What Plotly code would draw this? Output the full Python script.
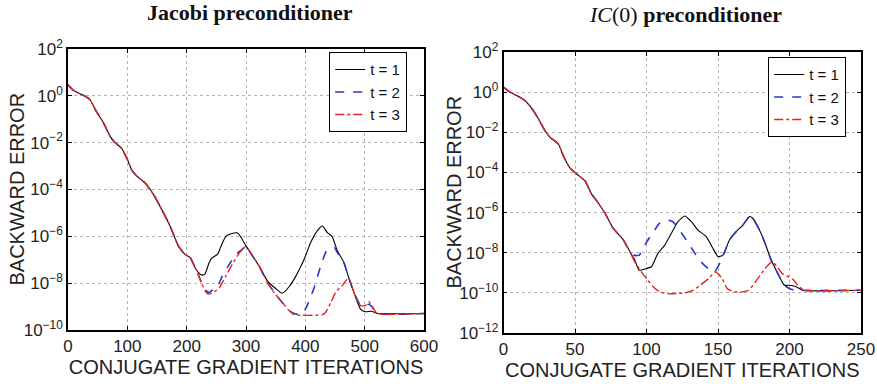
import plotly.graph_objects as go

# ---------------- Data ----------------
# Left panel: Jacobi preconditioner
jac_iter_t1 = [0, 8, 20, 30, 37, 48, 60, 71, 79, 90, 99, 107, 116, 130, 144, 155, 172, 186, 197, 206, 214,
               220, 226, 231, 238, 243, 252, 258, 266, 275, 286, 292, 300, 311, 322, 336, 350, 361, 373, 384,
               398, 409, 420, 429, 437, 445, 454, 465, 473, 482, 493, 501, 512, 521, 600]
jac_err_t1 = [2.95, 1.8, 1.23, 0.93, 0.68, 0.21, 0.069, 0.0186, 0.0102, 0.0059, 0.00224, 7.1e-4, 3.7e-4,
              1.9e-4, 6.2e-5, 1.95e-5, 2.75e-6, 3.9e-7, 1.7e-7, 1.23e-7, 4.7e-8,
              2.8e-8, 2.2e-8, 2.5e-8, 7.6e-8, 1.23e-7, 1.7e-7, 3.9e-7, 1.0e-6, 1.3e-6, 1.4e-6, 8.7e-7,
              3.9e-7, 1.45e-7, 5.5e-8, 1.26e-8, 5.9e-9, 3.7e-9, 7.2e-9, 2.0e-8,
              1.05e-7, 5.4e-7, 1.7e-6, 2.75e-6, 1.45e-6, 1.0e-6, 2.4e-7, 7.6e-8, 1.74e-8, 4.0e-9,
              7.8e-10, 6.0e-10, 6.3e-10, 5.1e-10, 5.1e-10]

jac_iter_t2 = [0, 8, 20, 30, 37, 48, 60, 71, 79, 90, 99, 107, 116, 130, 144, 155, 172, 186, 197, 206, 214,
               217, 225, 233, 238, 246, 252, 260, 272, 283, 297, 300, 311, 322, 336, 350, 361, 373, 384,
               395, 403, 415, 426, 437, 449, 454, 465, 473, 482, 493, 499, 507, 512, 521, 600]
jac_err_t2 = [2.95, 1.8, 1.23, 0.93, 0.68, 0.21, 0.069, 0.0186, 0.0102, 0.0059, 0.00224, 7.1e-4, 3.7e-4,
              1.9e-4, 6.2e-5, 1.95e-5, 2.75e-6, 3.9e-7, 1.7e-7, 1.23e-7, 4.7e-8,
              3.4e-8, 1.07e-8, 4.7e-9, 4.0e-9, 5.8e-9, 7.2e-9, 2.0e-8, 6.5e-8, 1.7e-7, 3.3e-7,
              3.9e-7, 1.45e-7, 5.5e-8, 1.07e-8, 3.4e-9, 1.5e-9, 6.6e-10, 4.8e-10,
              4.8e-10, 1.1e-9, 6.6e-9, 5.5e-8, 2.8e-7, 3.3e-7, 2.0e-7, 7.6e-8, 1.74e-8, 4.0e-9,
              1.1e-9, 1.0e-9, 1.26e-9, 1.0e-9, 5.1e-10, 5.1e-10]

jac_iter_t3 = [0, 8, 20, 30, 37, 48, 60, 71, 79, 90, 99, 107, 116, 130, 144, 155, 172, 186, 197, 206, 214,
               217, 225, 233, 238, 249, 255, 266, 277, 289, 297, 300, 311, 322, 336, 350, 361, 373, 381,
               429, 434, 443, 451, 462, 470, 476, 482, 493, 501, 507, 513, 521, 600]
jac_err_t3 = [2.95, 1.8, 1.23, 0.93, 0.68, 0.21, 0.069, 0.0186, 0.0102, 0.0059, 0.00224, 7.1e-4, 3.7e-4,
              1.9e-4, 6.2e-5, 1.95e-5, 2.75e-6, 3.9e-7, 1.7e-7, 1.23e-7, 4.7e-8,
              3.4e-8, 1.0e-8, 4.0e-9, 3.4e-9, 4.7e-9, 6.3e-9, 2.0e-8, 6.5e-8, 2.0e-7, 3.3e-7,
              3.9e-7, 1.45e-7, 5.5e-8, 1.07e-8, 3.2e-9, 1.5e-9, 6.6e-10, 4.5e-10,
              4.5e-10, 5.6e-10, 1.5e-9, 4.0e-9, 7.9e-9, 1.4e-8, 1.1e-8, 4.0e-9,
              1.1e-9, 1.1e-9, 1.6e-9, 1.0e-9, 5.1e-10, 5.1e-10]

# Right panel: IC(0) preconditioner
ic_iter_t1 = [0, 4.6, 10.5, 15, 20, 24.4, 29, 32.6, 38.4, 41.8, 46.5, 51.2, 57, 61.6, 65, 71, 76.7, 83.7, 88.4,
              91.8, 94.8, 100, 103.5, 108, 112.8, 117.4, 122, 126.7, 131.4, 136, 141.8, 146.4, 150, 153.4,
              158, 162.7, 167.4, 172, 174.3, 179, 182.5, 187.2, 191.8, 196.4, 200, 204.6, 209.2, 250]
ic_err_t1 = [1.78, 1.0, 0.6, 0.38, 0.148, 0.047, 0.012, 0.0056, 0.0026, 6.8e-4, 1.66e-4, 8.3e-5, 3.8e-5,
             8.3e-6, 4.0e-6, 9.3e-7, 1.66e-7, 4.5e-8, 1.12e-8,
             4.3e-9, 1.35e-9, 1.66e-9, 2.0e-9, 9.3e-9, 2.4e-8, 9.3e-8, 3.5e-7, 6.8e-7, 3.5e-7, 1.35e-7,
             6.3e-8, 1.66e-8, 6.3e-9, 7.6e-9,
             4.3e-8, 1.12e-7, 2.4e-7, 6.3e-7, 5.2e-7, 1.35e-7, 3.5e-8, 4.3e-9, 9.3e-10, 2.4e-10,
             2.4e-10, 2.0e-10, 1.35e-10, 1.35e-10]

ic_iter_t2 = [0, 4.6, 10.5, 15, 20, 24.4, 29, 32.6, 38.4, 41.8, 46.5, 51.2, 57, 61.6, 65, 71, 76.7, 83.7, 88.4,
              92, 95, 97.5, 101, 105.7, 109.2, 113.8, 118.5, 123.1, 127.8, 132.4, 137, 142.9, 147.5, 150,
              153.4, 158, 162.7, 167.4, 172, 174.3, 179, 182.5, 187.2, 191.8, 196.4, 201, 204.6, 250]
ic_err_t2 = [1.78, 1.0, 0.6, 0.38, 0.148, 0.047, 0.012, 0.0056, 0.0026, 6.8e-4, 1.66e-4, 8.3e-5, 3.8e-5,
             8.3e-6, 4.0e-6, 9.3e-7, 1.66e-7, 4.5e-8, 1.12e-8,
             7.2e-9, 7.6e-9, 1.66e-8, 4.3e-8, 1.35e-7, 2.95e-7, 4.3e-7, 3.5e-7, 1.35e-7, 4.3e-8, 1.35e-8,
             4.3e-9, 1.66e-9, 1.12e-9, 2.0e-9,
             6.3e-9, 4.3e-8, 1.12e-7, 2.4e-7, 6.3e-7, 5.2e-7, 1.35e-7, 3.5e-8, 4.3e-9, 9.3e-10, 2.4e-10,
             1.5e-10, 1.35e-10, 1.35e-10]

ic_iter_t3 = [0, 4.6, 10.5, 15, 20, 24.4, 29, 32.6, 38.4, 41.8, 46.5, 51.2, 57, 61.6, 65, 71, 76.7, 83.7, 88.4,
              91.8, 96.4, 100, 104.6, 109.2, 115.2, 121.2, 127, 132.8, 137.5, 143.5, 148.2, 152.9, 156.4,
              161.1, 166.9, 171.5, 176.2, 182, 187.8, 191.3, 194.8, 199.5, 203, 206.5, 211.2, 250]
ic_err_t3 = [1.78, 1.0, 0.6, 0.38, 0.148, 0.047, 0.012, 0.0056, 0.0026, 6.8e-4, 1.66e-4, 8.3e-5, 3.8e-5,
             8.3e-6, 4.0e-6, 9.3e-7, 1.66e-7, 4.5e-8, 1.12e-8,
             3.5e-9, 1.12e-9, 5.2e-10, 2.0e-10, 1.12e-10, 8.9e-11, 9.3e-11, 1.0e-10, 1.35e-10, 2.4e-10,
             5.2e-10, 1.12e-9, 5.2e-10, 1.66e-10,
             1.12e-10, 1.12e-10, 1.35e-10, 3.5e-10, 1.35e-9, 3.5e-9, 2.0e-9, 9.3e-10, 6.3e-10, 4.3e-10,
             2.0e-10, 1.35e-10, 1.35e-10]

series_names = ["t = 1", "t = 2", "t = 3"]
jac_ytickvals = [1e-10, 1e-8, 1e-6, 1e-4, 1e-2, 1e0, 1e2]
jac_yticktext = ["10<sup>\u221210</sup>", "10<sup>\u22128</sup>", "10<sup>\u22126</sup>",
                 "10<sup>\u22124</sup>", "10<sup>\u22122</sup>", "10<sup>0</sup>", "10<sup>2</sup>"]
ic_ytickvals = [1e-12] + jac_ytickvals
ic_yticktext = ["10<sup>\u221212</sup>"] + jac_yticktext

# ---------------- Styles ----------------
W, H = 877, 384
styles = [dict(color="#000000", width=1.1, dash="solid"),
          dict(color="#2338c8", width=1.6, dash="dash"),
          dict(color="#e8231c", width=1.4, dash="dashdot")]
SANS = "Liberation Sans, Arial, Helvetica, sans-serif"
SERIF = "Liberation Serif, Times New Roman, serif"

fig = go.Figure()
for (xs, ys), name, st in zip([(jac_iter_t1, jac_err_t1), (jac_iter_t2, jac_err_t2), (jac_iter_t3, jac_err_t3)],
                              series_names, styles):
    fig.add_trace(go.Scatter(x=xs, y=ys, mode="lines", name=name, line=dict(st, shape="spline", smoothing=0.5),
                             xaxis="x", yaxis="y", legend="legend"))
for (xs, ys), name, st in zip([(ic_iter_t1, ic_err_t1), (ic_iter_t2, ic_err_t2), (ic_iter_t3, ic_err_t3)],
                              series_names, styles):
    fig.add_trace(go.Scatter(x=xs, y=ys, mode="lines", name=name, line=dict(st, shape="spline", smoothing=0.5),
                             xaxis="x2", yaxis="y2", legend="legend2"))

def px_x(p):
    return p / W

def px_y(p):
    return 1 - p / H

axis_common = dict(showline=True, linecolor="black", linewidth=1.6, mirror="ticks", ticks="inside",
                   ticklen=4, tickcolor="black", showgrid=True, gridcolor="#b4b4b4", griddash="dot",
                   gridwidth=1, zeroline=False, automargin=False,
                   tickfont=dict(family=SANS, size=17, color="#222"),
                   title_font=dict(family=SANS, size=20, color="#222"))

legend_common = dict(xanchor="left", yanchor="top", bgcolor="white", bordercolor="black", borderwidth=1.2,
                     font=dict(family=SANS, size=15, color="#111"), itemwidth=30, tracegroupgap=0)

ytitle_font = dict(family=SANS, size=20, color="#222")

fig.update_layout(
    template="none",
    width=W, height=H, margin=dict(l=0, r=0, t=0, b=0, autoexpand=False),
    paper_bgcolor="white", plot_bgcolor="white",
    xaxis=dict(axis_common, domain=[px_x(68), px_x(424)], range=[0, 600], dtick=100, anchor="y",
               title=dict(text="CONJUGATE GRADIENT ITERATIONS", standoff=4)),
    yaxis=dict(axis_common, domain=[px_y(330), px_y(49)], type="log", range=[-10, 2], anchor="x",
               tickvals=jac_ytickvals, ticktext=jac_yticktext),
    xaxis2=dict(axis_common, domain=[px_x(503.5), px_x(861)], range=[0, 250], dtick=50, anchor="y2",
                title=dict(text="CONJUGATE GRADIENT ITERATIONS", standoff=4)),
    yaxis2=dict(axis_common, domain=[px_y(333), px_y(52)], type="log", range=[-12, 2], anchor="x2",
                tickvals=ic_ytickvals, ticktext=ic_yticktext),
    legend=dict(legend_common, x=px_x(329), y=px_y(52)),
    legend2=dict(legend_common, x=px_x(768), y=px_y(57)),
    showlegend=True,
    annotations=[
        dict(text="<b>Jacobi preconditioner</b>", x=px_x(250), y=px_y(13), xref="paper", yref="paper",
             showarrow=False, xanchor="center", yanchor="middle",
             font=dict(family=SERIF, size=22, color="#111")),
        dict(text="<i>IC</i>(0) <b>preconditioner</b>", x=px_x(685), y=px_y(14), xref="paper", yref="paper",
             showarrow=False, xanchor="center", yanchor="middle",
             font=dict(family=SERIF, size=22, color="#111")),
        dict(text="BACKWARD ERROR", x=px_x(17), y=px_y(189.5), xref="paper", yref="paper", textangle=-90,
             showarrow=False, xanchor="center", yanchor="middle", font=ytitle_font),
        dict(text="BACKWARD ERROR", x=px_x(453), y=px_y(192.5), xref="paper", yref="paper", textangle=-90,
             showarrow=False, xanchor="center", yanchor="middle", font=ytitle_font),
    ],
)

fig.write_html("out.html", config={"displayModeBar": False},
               post_script="document.body.style.margin='0';document.body.style.padding='0';")
